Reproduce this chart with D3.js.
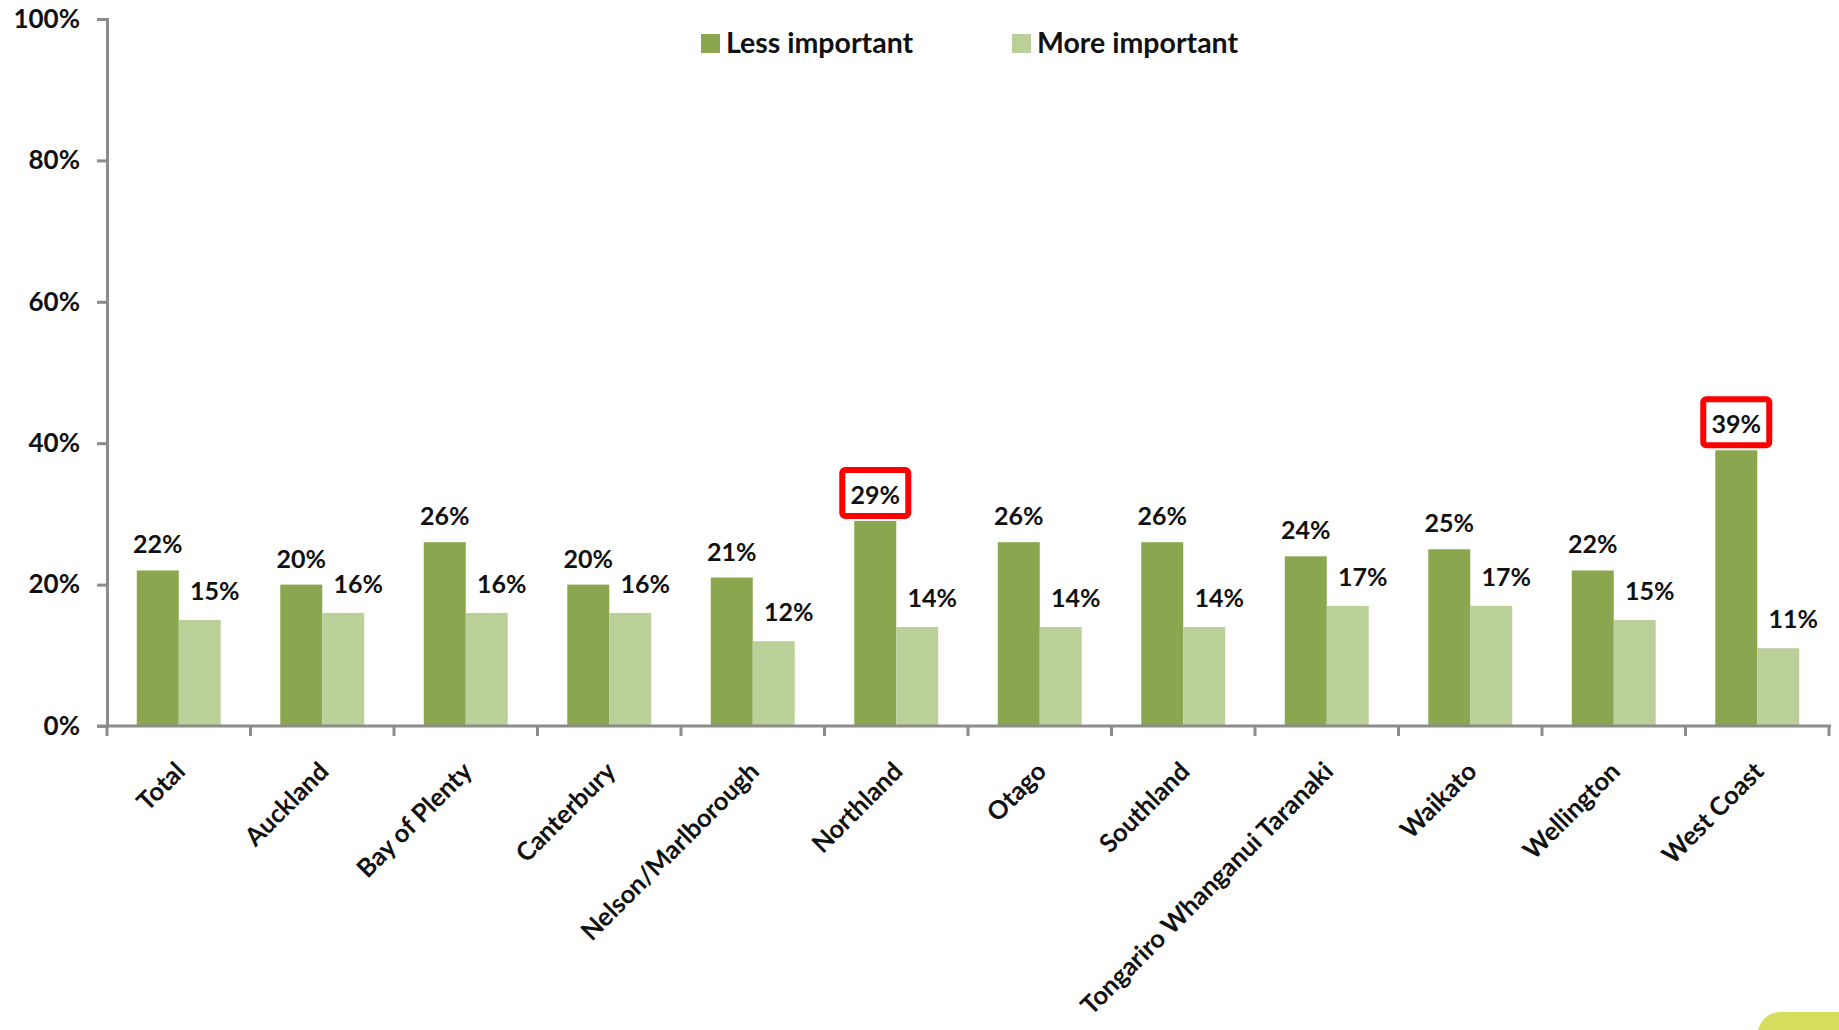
<!DOCTYPE html>
<html>
<head>
<meta charset="utf-8">
<script src="https://cdn.jsdelivr.net/npm/d3@7"></script>
<style>
  html, body { margin: 0; padding: 0; background: #ffffff; }
  svg { display: block; }
  text { font-family: Lato, "Open Sans", sans-serif; font-weight: 700; fill: #111; }
</style>
</head>
<body>
<svg id="chart" width="1839" height="1030"></svg>
<script>
// Regions and the share of each rating
const regions = ["Total", "Auckland", "Bay of Plenty", "Canterbury", "Nelson/Marlborough",
  "Northland", "Otago", "Southland", "Tongariro Whanganui Taranaki", "Waikato",
  "Wellington", "West Coast"];
const lessImportant = [22, 20, 26, 20, 21, 29, 26, 26, 24, 25, 22, 39];
const moreImportant = [15, 16, 16, 16, 12, 14, 14, 14, 17, 17, 15, 11];
const seriesNames = ["Less important", "More important"];
const yTicks = [0, 20, 40, 60, 80, 100];
// Regions whose "Less important" value is boxed in red
const highlighted = ["Northland", "West Coast"];

const colors = ["#8aa64f", "#bbcf98"];

const svg = d3.select("#chart");
const plotLeft = 107, plotRight = 1829, plotTop = 19, plotBottom = 726;

const x = d3.scaleBand().domain(regions).range([plotLeft, plotRight])
  .paddingInner(0.415).paddingOuter(0.2075);
const xSub = d3.scaleBand().domain(seriesNames).range([0, x.bandwidth()]);
const y = d3.scaleLinear().domain([0, 100]).range([plotBottom, plotTop]);

const rows = regions.map((r, i) => ({ region: r, values: [lessImportant[i], moreImportant[i]] }));

// Bars
const groups = svg.append("g").selectAll("g").data(rows).join("g")
  .attr("transform", d => `translate(${x(d.region)},0)`);

groups.selectAll("rect").data(d => d.values.map((v, k) => ({ v, k, region: d.region })))
  .join("rect")
  .attr("x", d => xSub(seriesNames[d.k]))
  .attr("width", xSub.bandwidth())
  .attr("y", d => y(d.v))
  .attr("height", d => y(0) - y(d.v))
  .attr("fill", d => colors[d.k]);

// Value labels
groups.selectAll("text.val").data(d => d.values.map((v, k) => ({ v, k, region: d.region })))
  .join("text")
  .attr("class", "val")
  .attr("text-anchor", "middle")
  .attr("font-size", 25)
  .attr("x", d => xSub(seriesNames[d.k]) + xSub.bandwidth() / 2 + (d.k === 1 ? 15 : 0))
  .attr("y", d => y(d.v) - (d.k === 1 ? 20 : 17))
  .text(d => d.v + "%");

// Red boxes around highlighted values
groups.filter(d => highlighted.includes(d.region))
  .append("rect")
  .attr("x", xSub.bandwidth() / 2 - 33)
  .attr("width", 66)
  .attr("y", d => y(d.values[0]) - 17 - 34)
  .attr("height", 46)
  .attr("rx", 3)
  .attr("fill", "none")
  .attr("stroke", "#ff0000")
  .attr("stroke-width", 6);

// Y axis
const yAxis = svg.append("g").attr("transform", `translate(${plotLeft},0)`)
  .call(d3.axisLeft(y).tickValues(yTicks).tickSize(10).tickPadding(17)
    .tickFormat(d => d + "%"));
yAxis.select(".domain").attr("stroke", "#8c8c8c").attr("stroke-width", 3);
yAxis.selectAll(".tick line").attr("stroke", "#8c8c8c").attr("stroke-width", 3);
yAxis.selectAll(".tick text").attr("font-size", 26).attr("font-family", "Lato, sans-serif")
  .attr("font-weight", 700).attr("fill", "#111");

// X axis line with ticks on category boundaries
const boundaries = d3.range(regions.length + 1).map(i => plotLeft + i * x.step());
const xAxis = svg.append("g");
xAxis.append("line")
  .attr("x1", plotLeft - 10).attr("x2", plotRight + 2)
  .attr("y1", y(0)).attr("y2", y(0))
  .attr("stroke", "#8c8c8c").attr("stroke-width", 3);
xAxis.selectAll("line.tick").data(boundaries).join("line")
  .attr("class", "tick")
  .attr("x1", d => d).attr("x2", d => d)
  .attr("y1", y(0)).attr("y2", y(0) + 10)
  .attr("stroke", "#8c8c8c").attr("stroke-width", 3);

// Rotated category labels
xAxis.selectAll("text").data(regions).join("text")
  .attr("text-anchor", "end")
  .attr("font-size", 25.5)
  .attr("transform", d => `translate(${x(d) + x.bandwidth() / 2 + 8},${y(0) + 47}) rotate(-45)`)
  .text(d => d);

// Legend
const legend = svg.append("g");
const legendX = [701, 1012];
seriesNames.forEach((name, k) => {
  legend.append("rect").attr("x", legendX[k]).attr("y", 34).attr("width", 19).attr("height", 19)
    .attr("fill", colors[k]);
  legend.append("text").attr("x", legendX[k] + 25).attr("y", 53).attr("font-size", 28.5).text(name);
});

// Corner tab
svg.append("rect").attr("x", 1758).attr("y", 1012).attr("width", 130).attr("height", 60)
  .attr("rx", 22).attr("fill", "#d6dc5c");
</script>
</body>
</html>
